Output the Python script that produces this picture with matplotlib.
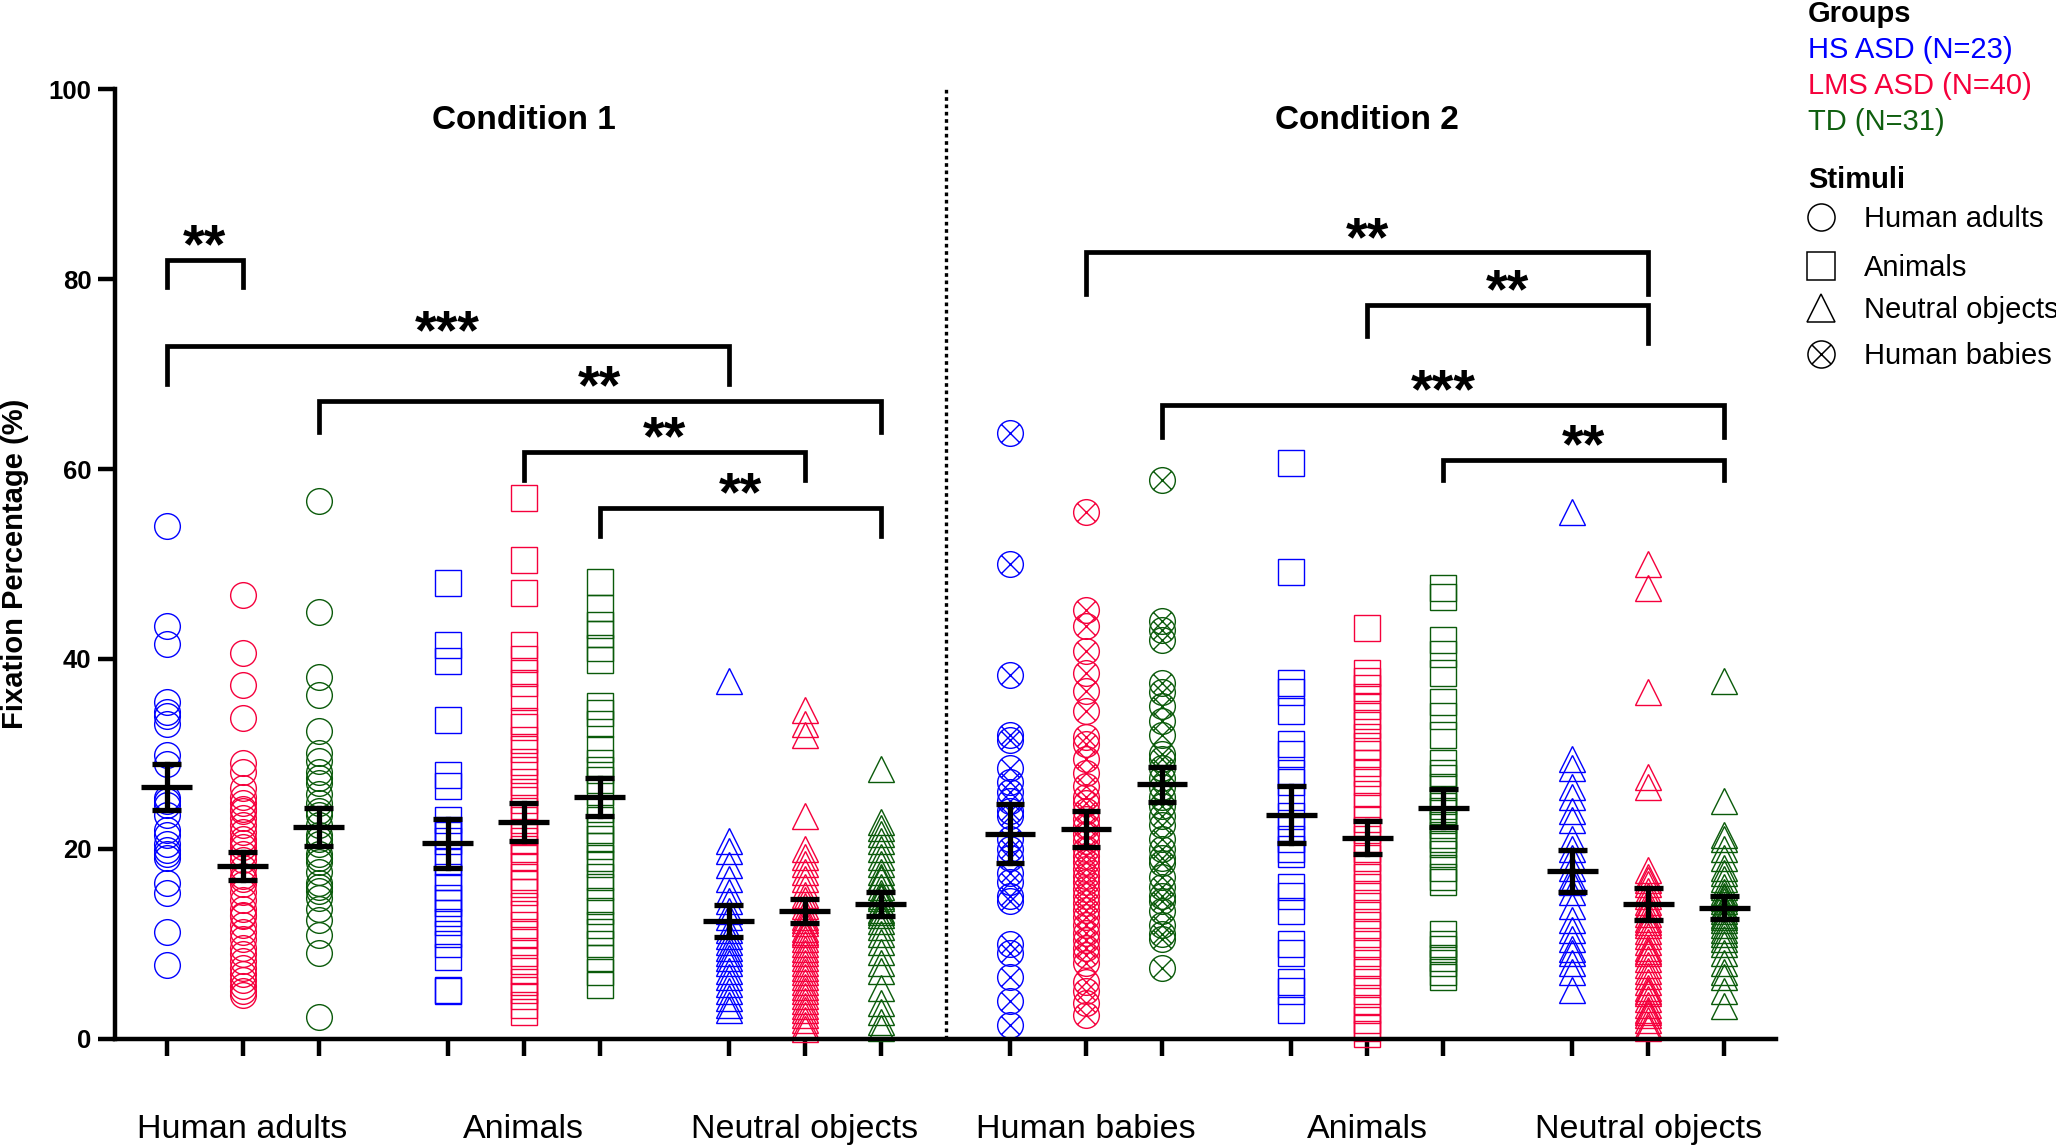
import matplotlib
matplotlib.use('Agg')
import matplotlib.pyplot as plt
import matplotlib.transforms as mtransforms
import numpy as np
from matplotlib.path import Path

plt.rcParams['font.family'] = ['Liberation Sans', 'DejaVu Sans']

# ---------------------------------------------------------------------------
# Data (fixation percentages per participant)
# ---------------------------------------------------------------------------
group_names = ['HS ASD (N=23)', 'LMS ASD (N=40)', 'TD (N=31)']
stimuli_names = ['Human adults', 'Animals', 'Neutral objects', 'Human babies']
category_labels = ['Human adults', 'Animals', 'Neutral objects',
                   'Human babies', 'Animals', 'Neutral objects']

# Condition 1 - Human adults
ha1_hs = [54.0, 43.5, 41.6, 35.5, 34.4, 34.0, 33.2, 29.9, 28.9, 25.4, 25.0, 24.6,
          23.6, 22.0, 21.5, 20.5, 19.9, 19.5, 19.1, 16.4, 15.4, 11.3, 7.8]
ha1_lms = [46.7, 40.6, 37.3, 33.8, 29.1, 28.1, 26.4, 25.5, 24.8, 24.2, 24.0, 23.3,
           22.5, 21.8, 21.0, 20.6, 20.2, 19.5, 18.8, 18.0, 17.2, 16.8, 16.3, 15.5,
           14.6, 13.7, 13.1, 12.9, 12.0, 11.3, 10.5, 9.6, 8.9, 8.2, 7.5, 6.8, 6.2,
           5.6, 5.0, 4.6]
ha1_td = [56.6, 44.9, 38.1, 36.2, 32.4, 30.1, 29.3, 28.1, 27.5, 26.9, 25.8, 24.8,
          24.0, 23.6, 22.5, 21.5, 21.0, 20.5, 19.5, 19.0, 18.6, 17.6, 16.4, 16.0,
          15.6, 14.8, 13.7, 12.5, 10.9, 9.0, 2.3]

# Condition 1 - Animals
an1_hs = [48.0, 41.5, 39.8, 33.6, 27.8, 26.6, 23.0, 22.0, 21.5, 20.8, 19.4, 18.6,
          17.0, 16.0, 14.8, 14.3, 13.3, 12.3, 11.0, 10.0, 8.6, 5.2, 5.0]
an1_lms = [56.9, 50.4, 47.0, 41.5, 40.0, 38.5, 37.5, 36.0, 33.5, 32.8, 31.5, 30.5,
           29.2, 28.3, 27.0, 26.0, 25.2, 24.0, 23.0, 21.8, 20.8, 20.0, 19.2, 18.2,
           17.0, 16.3, 15.5, 14.0, 13.2, 12.0, 11.0, 10.2, 9.0, 8.2, 7.2, 6.0, 5.2,
           4.5, 3.6, 2.8]
an1_td = [48.1, 45.4, 43.6, 42.6, 41.2, 39.9, 35.0, 34.3, 33.2, 30.5, 29.0, 28.3,
          27.3, 26.0, 24.2, 23.0, 22.0, 21.0, 20.3, 19.0, 18.4, 17.0, 16.0, 14.5,
          13.5, 12.0, 11.3, 10.0, 8.5, 7.0, 5.7]

# Condition 1 - Neutral objects
no1_hs = [37.7, 20.8, 19.8, 18.3, 16.8, 15.5, 14.5, 13.5, 12.8, 11.5, 10.8, 10.2,
          9.6, 9.0, 8.5, 8.0, 7.2, 6.5, 5.8, 5.0, 4.3, 3.6, 3.0]
no1_lms = [34.6, 33.2, 32.0, 23.5, 20.0, 19.2, 18.4, 17.6, 16.8, 16.0, 15.2, 14.6,
           14.0, 13.4, 12.8, 12.5, 12.2, 11.6, 11.3, 11.0, 10.5, 10.0, 9.5, 9.0,
           8.5, 8.0, 7.5, 7.0, 6.5, 6.0, 5.5, 5.0, 4.5, 4.0, 3.5, 3.0, 2.5, 2.0,
           1.5, 1.0]
no1_td = [28.4, 22.8, 22.2, 21.6, 20.8, 20.0, 19.2, 18.4, 17.6, 17.0, 16.8, 16.0,
          15.4, 15.0, 14.8, 14.2, 13.6, 13.4, 13.0, 12.4, 11.8, 11.0, 10.2, 9.2,
          8.0, 7.2, 5.4, 3.8, 2.8, 1.8, 1.2]

# Condition 2 - Human babies
hb2_hs = [63.8, 50.0, 38.3, 32.0, 31.5, 28.5, 27.0, 26.0, 25.0, 24.0, 23.5, 21.0,
          20.0, 19.0, 17.5, 16.5, 15.0, 14.5, 10.0, 9.0, 6.5, 4.0, 1.5]
hb2_lms = [55.5, 45.2, 43.5, 40.8, 38.5, 36.6, 34.5, 31.8, 31.0, 29.5, 28.0, 26.6,
           25.5, 24.8, 24.0, 23.2, 22.4, 21.6, 20.8, 20.0, 19.3, 18.6, 17.9, 17.2,
           16.5, 15.8, 15.0, 14.3, 13.6, 12.8, 12.0, 11.2, 10.4, 9.6, 8.8, 8.0, 6.0,
           5.0, 3.8, 2.5]
hb2_td = [58.8, 44.0, 43.0, 42.0, 37.5, 36.5, 35.0, 33.5, 32.0, 30.0, 29.5, 28.5,
          27.5, 26.5, 25.5, 24.5, 23.5, 22.5, 21.0, 20.0, 19.0, 18.5, 17.0, 16.0,
          15.0, 14.5, 13.5, 12.0, 11.0, 10.5, 7.5]

# Condition 2 - Animals
an2_hs = [60.6, 49.2, 37.5, 36.5, 34.5, 31.0, 30.0, 28.0, 27.0, 25.5, 23.5, 22.0,
          21.0, 20.0, 19.5, 16.0, 15.0, 13.5, 10.0, 9.0, 6.0, 5.0, 3.0]
an2_lms = [43.3, 38.5, 37.7, 36.9, 36.0, 35.0, 34.0, 33.0, 31.8, 30.8, 30.0, 29.0,
           28.0, 27.0, 25.8, 24.5, 23.2, 22.0, 21.0, 20.0, 19.0, 18.0, 17.0, 16.0,
           15.0, 14.0, 13.0, 12.0, 11.0, 10.0, 9.0, 8.0, 7.0, 6.0, 5.0, 4.0, 3.0,
           2.0, 1.2, 0.5]
an2_td = [47.5, 46.5, 42.0, 40.5, 38.5, 35.5, 34.0, 32.0, 29.0, 28.0, 27.5, 26.5,
          25.0, 24.5, 24.0, 23.0, 22.5, 21.5, 21.0, 20.5, 19.5, 18.0, 17.0, 16.5,
          11.0, 10.0, 9.5, 8.5, 8.0, 7.0, 6.5]

# Condition 2 - Neutral objects
no2_hs = [55.5, 29.5, 28.5, 26.5, 25.5, 24.0, 23.0, 21.0, 20.0, 19.0, 18.0, 17.0,
          16.5, 15.5, 14.0, 12.5, 11.5, 10.5, 9.5, 9.0, 8.0, 7.0, 5.2]
no2_lms = [50.0, 47.5, 36.5, 27.6, 26.5, 17.8, 17.0, 16.7, 16.3, 15.6, 15.0, 14.4,
           14.0, 13.8, 13.2, 12.6, 12.3, 12.0, 11.4, 10.8, 10.2, 9.6, 9.3, 9.0,
           8.4, 7.8, 7.2, 6.6, 6.0, 5.4, 5.0, 4.8, 4.2, 3.6, 3.0, 2.8, 2.5, 2.0,
           1.5, 1.2]
no2_td = [37.7, 25.0, 21.5, 21.0, 20.0, 19.0, 18.0, 17.5, 16.8, 16.0, 15.5, 15.0,
          14.8, 14.5, 14.0, 13.8, 13.5, 13.0, 12.8, 12.5, 12.0, 11.5, 11.0, 10.5,
          10.0, 9.0, 8.0, 7.0, 6.5, 5.0, 3.5]

# Mean and SEM for each column (as shown in the figure)
means = [26.5, 18.2, 22.3, 20.6, 22.8, 25.5, 12.4, 13.5, 14.2,
         21.6, 22.1, 26.8, 23.6, 21.2, 24.3, 17.7, 14.2, 13.8]
sems = [2.4, 1.5, 2.0, 2.6, 2.0, 2.0, 1.65, 1.25, 1.25,
        3.1, 1.9, 1.85, 3.0, 1.7, 2.0, 2.2, 1.65, 1.2]

# Significance brackets: (x1 column, x2 column, top, left leg end, right leg end, label)
brackets = [
    (0, 1, 82.0, 79.2, 79.2, '**'),
    (0, 6, 73.0, 69.0, 69.0, '***'),
    (2, 8, 67.2, 63.9, 63.9, '**'),
    (4, 7, 61.8, 58.8, 58.8, '**'),
    (5, 8, 55.9, 53.0, 53.0, '**'),
    (10, 16, 82.8, 78.4, 78.4, '**'),
    (13, 16, 77.3, 74.0, 73.3, '**'),
    (11, 17, 66.7, 63.4, 63.4, '***'),
    (14, 17, 61.0, 58.8, 58.8, '**'),
]

columns = [ha1_hs, ha1_lms, ha1_td, an1_hs, an1_lms, an1_td, no1_hs, no1_lms, no1_td,
           hb2_hs, hb2_lms, hb2_td, an2_hs, an2_lms, an2_td, no2_hs, no2_lms, no2_td]

# ---------------------------------------------------------------------------
# Styling
# ---------------------------------------------------------------------------
colors = ['#0000FF', '#F5003C', '#0A5A0A']
text_colors = ['#0000FF', '#F5003C', '#0F5F0F']

# circle with an x inside (Human babies)
c = 0.7071
babies_marker = Path.make_compound_path(
    Path.unit_circle(),
    Path([[-c, -c], [c, c]], [Path.MOVETO, Path.LINETO]),
    Path([[-c, c], [c, -c]], [Path.MOVETO, Path.LINETO]),
)
stim_markers = ['o', 's', '^', babies_marker]
col_markers = ['o', 's', '^', babies_marker, 's', '^']

# x positions: 3 columns per stimulus, wider gaps between stimuli
positions = []
for g in range(6):
    for k in range(3):
        positions.append(g * 3.7 + k)
positions = np.array(positions)

fig = plt.figure(figsize=(20.56, 11.46), dpi=100)
ax = fig.add_axes([0.0559, 0.0934, 0.8079, 0.8289])

ms = 18.5
for i, vals in enumerate(columns):
    g = i // 3
    k = i % 3
    ax.plot(np.full(len(vals), positions[i]), vals, linestyle='none',
            marker=col_markers[g], markersize=ms, markerfacecolor='none',
            markeredgecolor=colors[k], markeredgewidth=1.0, clip_on=False, zorder=2)

# mean +/- SEM
for i in range(len(columns)):
    x = positions[i]
    m = means[i]
    s = sems[i]
    ax.plot([x - 0.335, x + 0.335], [m, m], color='black', lw=3.8, zorder=4,
            solid_capstyle='butt')
    ax.plot([x, x], [m - s, m + s], color='black', lw=3.8, zorder=4)
    for yy in (m - s, m + s):
        ax.plot([x - 0.19, x + 0.19], [yy, yy], color='black', lw=3.8, zorder=4,
                solid_capstyle='butt')

# significance brackets
for i1, i2, top, l1, l2, lab in brackets:
    x1 = positions[i1]
    x2 = positions[i2]
    ax.plot([x1, x1, x2, x2], [l1, top, top, l2], color='black', lw=3.4,
            solid_joinstyle='miter', zorder=5)
    ax.text((x1 + x2) / 2, top - 0.25, lab, ha='center', va='baseline',
            fontsize=40, fontweight='bold', zorder=5)

# divider between conditions
ax.plot([10.26, 10.26], [0, 100], color='black', lw=2.4,
        linestyle=(0, (1.1, 1.1)), zorder=1)

ax.text(4.7, 95.8, 'Condition 1', ha='center', va='baseline', fontsize=24,
        fontweight='bold')
ax.text(15.8, 95.8, 'Condition 2', ha='center', va='baseline', fontsize=24,
        fontweight='bold')

# axes
ax.set_xlim(-0.68, 21.18)
ax.set_ylim(0, 100)
ax.spines['top'].set_visible(False)
ax.spines['right'].set_visible(False)
ax.spines['left'].set_linewidth(3.2)
ax.spines['bottom'].set_linewidth(3.2)
ax.set_yticks([0, 20, 40, 60, 80, 100])
ax.set_yticklabels(['0', '20', '40', '60', '80', '100'], fontweight='bold',
                   fontsize=18.5)
ax.set_xticks(positions)
ax.set_xticklabels([])
ax.tick_params(axis='both', length=12, width=3.2, direction='out', pad=5)
ax.set_ylabel('Fixation Percentage (%)', fontsize=21, fontweight='bold')
ax.yaxis.set_label_coords(-0.052, 0.5)

label_trans = mtransforms.blended_transform_factory(ax.transData, fig.transFigure)
for g in range(6):
    ax.text(positions[g * 3 + 1], 0.007, category_labels[g], transform=label_trans,
            ha='center', va='baseline', fontsize=24.5)

# legend (drawn manually)
fig.text(0.8794, 1 - 22.5 / 1146, 'Groups', fontsize=21, fontweight='bold',
         va='baseline', ha='left')
for k, name in enumerate(group_names):
    fig.text(0.8794, 1 - (58.5 + k * 35.5) / 1146, name, fontsize=21,
             color=text_colors[k], va='baseline', ha='left')
fig.text(0.8794, 1 - 187.5 / 1146, 'Stimuli', fontsize=21, fontweight='bold',
         va='baseline', ha='left')
stim_y = [217, 266, 308, 354]
for j, name in enumerate(stimuli_names):
    ax.plot([0.8857], [1 - stim_y[j] / 1146], transform=fig.transFigure,
            marker=stim_markers[j], markersize=19.5, markerfacecolor='none',
            markeredgecolor='black', markeredgewidth=1.1, clip_on=False,
            linestyle='none')
    fig.text(0.9066, 1 - (stim_y[j] + 10.5) / 1146, name, fontsize=21,
             va='baseline', ha='left')

plt.savefig('out.png', dpi=100)
